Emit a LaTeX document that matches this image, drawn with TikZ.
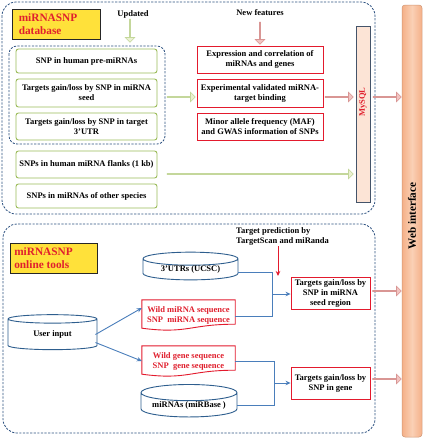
\documentclass[tikz,border=0pt]{standalone}
\usepackage{fontspec}
\setmainfont{Liberation Serif}
\usetikzlibrary{shapes.geometric,shapes.arrows,calc,arrows.meta}
\definecolor{gborder}{HTML}{9BBB59}
\definecolor{rborder}{HTML}{E31A2D}
\definecolor{rtext}{HTML}{E0202E}
\definecolor{dblue}{HTML}{2F5382}
\definecolor{cblue}{HTML}{2E5E8E}
\definecolor{lblue}{HTML}{4A7EBB}
\definecolor{gfill}{HTML}{EBF1D2}
\definecolor{gdraw}{HTML}{C4D79B}
\definecolor{pfill}{HTML}{F2C4C2}
\definecolor{pdraw}{HTML}{D99694}
\definecolor{ttlfill}{HTML}{FFE13A}
\definecolor{sqlfill}{HTML}{FCE4D6}
\definecolor{sqldraw}{HTML}{44546A}
\definecolor{webA}{HTML}{F5B088}
\definecolor{webB}{HTML}{FAD0B5}
% #1 style, #2 border rotation, #3 start, #4 end
\newcommand\fatarr[4]{%
  \path let \p1=#3, \p2=#4, \n1={veclen(\x2-\x1,\y2-\y1)} in
    node[#1, minimum height=\n1, shape border rotate=#2] at ($#3!0.5!#4$) {};}
\begin{document}
\begin{tikzpicture}[x=1pt,y=-1pt,
  every node/.style={font=\bfseries\fontsize{8.5}{10}\selectfont},
  dashbox/.style={draw=dblue, dashed, dash pattern=on 2.2pt off 1.4pt, line width=0.8pt, rounded corners=14pt},
  innerdash/.style={draw=dblue, dashed, dash pattern=on 2.2pt off 1.4pt, line width=0.8pt, rounded corners=8pt},
  ttl/.style={draw=black!85, line width=0.8pt, fill=ttlfill, text=rtext, align=left, anchor=center,
    font=\bfseries\fontsize{11.3}{13.5}\selectfont, inner sep=0pt},
  gbox/.style={draw=gborder, line width=0.9pt, rounded corners=2.5pt, fill=white, align=center,
    minimum width=141pt, inner sep=0pt},
  rbox/.style={draw=rborder, line width=0.9pt, fill=white, align=center, inner sep=0pt},
  cyl/.style={cylinder, shape border rotate=90, draw=cblue, line width=0.9pt, aspect=0.22,
    fill=white, inner sep=0pt},
  docnode/.style={align=center, text=rtext, inner sep=0pt, minimum width=93pt, minimum height=30pt},
  docline/.style={draw=rborder, line width=0.9pt},
  conn/.style={draw=lblue, line width=0.9pt},
  connarr/.style={draw=lblue, line width=0.9pt, -{Stealth[length=5pt,width=4.5pt]}},
  gfat/.style={single arrow, draw=gdraw, fill=gfill, line width=0.6pt, minimum width=9.5pt,
    single arrow head extend=2.5pt, single arrow head indent=0pt, inner sep=0pt},
  pfat/.style={single arrow, draw=pdraw, fill=pfill, line width=0.6pt, minimum width=9.5pt,
    single arrow head extend=2.5pt, single arrow head indent=0pt, inner sep=0pt},
  ]
\useasboundingbox (0,0) rectangle (425,440);
\fill[white] (0,0) rectangle (425,440);

% ---------- database part ----------
\draw[dashbox] (2,2) rectangle (375,214);
\node[ttl, minimum width=88pt, minimum height=30pt] (t1) at (56,24) {\hspace*{2pt}miRNASNP\hspace*{18pt}\\[-1pt]\hspace*{2pt}database\hspace*{24pt}};
\node (upd) at (133,14) {Updated};
\node (newf) at (260,13) {New features};

\draw[innerdash] (9,46) rectangle (165,144);

\node[gbox, minimum height=24pt] (g1) at (86.5,61) {SNP in human pre-miRNAs};
\node[gbox, minimum height=28pt] (g2) at (86.5,93) {Targets gain/loss by SNP in miRNA\\seed};
\node[gbox, minimum height=27pt] (g3) at (86.5,126.5) {Targets gain/loss by SNP in target\\3’UTR};
\node[gbox, minimum height=27pt] (g4) at (86.5,164.5) {SNPs in human miRNA flanks (1 kb)};
\node[gbox, minimum height=24pt] (g5) at (86.5,196) {SNPs in miRNAs of other species};

\node[rbox, minimum width=126pt, minimum height=27pt] (r1) at (260,59.5) {Expression and correlation of\\miRNAs and genes};
\node[rbox, minimum width=126pt, minimum height=28pt] (r2) at (260,93) {Experimental validated miRNA-\\target binding};
\node[rbox, minimum width=126pt, minimum height=27pt] (r3) at (260,126.5) {Minor allele frequency (MAF)\\and GWAS information of SNPs};

\node[draw=sqldraw, line width=0.9pt, fill=sqlfill, minimum width=14pt, minimum height=176pt, inner sep=0pt] (sql) at (363,114) {};
\node[rotate=90, text=rtext, inner sep=0pt] (sqltxt) at (363,102) {MySQL};

% web interface bar
\node[rounded corners=3pt, draw=webA!85!black, line width=0.5pt, left color=webA, right color=webA, middle color=webB,
  minimum width=20pt, minimum height=432pt, inner sep=0pt] (web) at (412,221) {};
\node[rotate=90, font=\bfseries\fontsize{11.2}{13}\selectfont] (webtxt) at (412,216) {Web interface};

% fat arrows (database)
\coordinate (updA) at (130,19);
\coordinate (updB) at (130,42);
\fatarr{gfat}{270}{(updA)}{(updB)}
\coordinate (newA) at (260,22);
\coordinate (newB) at (260,44);
\fatarr{pfat}{270}{(newA)}{(newB)}
\coordinate (ga1) at (167,97);
\coordinate (ga2) at (195,97);
\fatarr{gfat}{0}{(ga1)}{(ga2)}
\coordinate (gl1) at (167,174);
\coordinate (gl2) at (353,174);
\fatarr{gfat}{0}{(gl1)}{(gl2)}
\coordinate (pa1) at (325,97);
\coordinate (pa2) at (353,97);
\fatarr{pfat}{0}{(pa1)}{(pa2)}
\coordinate (pb1) at (373,97);
\coordinate (pb2) at (401,97);
\fatarr{pfat}{0}{(pb1)}{(pb2)}

% ---------- online tools part ----------
\draw[dashbox] (3,224) rectangle (375,433);
\node[ttl, minimum width=87pt, minimum height=30pt] (t2) at (53.5,258) {\hspace*{2pt}miRNASNP\hspace*{22pt}\\[-1pt]\hspace*{2pt}online tools\hspace*{9pt}};

\node[cyl, minimum width=95pt, minimum height=27pt] (utr) at (190.5,269.5) {\raisebox{-3pt}{3’UTRs (UCSC)}};
\node[cyl, minimum width=89pt, minimum height=35pt] (user) at (52.5,334.5) {\raisebox{-3pt}{User input}};
\node[cyl, minimum width=96pt, minimum height=30pt] (mirb) at (189,405) {\raisebox{-3pt}{miRNAs (miRBase )}};

% document shapes
\node[docnode] (doc1) at (188.5,315) {\raisebox{2pt}{\begin{tabular}{@{}c@{}}Wild miRNA sequence\\SNP\ \ miRNA sequence\end{tabular}}};
\draw[docline] (doc1.north west) -- (doc1.north east) -- ([yshift=6pt]doc1.south east)
  .. controls ([xshift=-46pt,yshift=6pt]doc1.south east) and ([xshift=46pt,yshift=-4pt]doc1.south west) .. ([yshift=2pt]doc1.south west) -- cycle;
\node[docnode] (doc2) at (188.5,361) {\raisebox{2pt}{\begin{tabular}{@{}c@{}}Wild gene sequence\\SNP\ \ gene sequence\end{tabular}}};
\draw[docline] (doc2.north west) -- (doc2.north east) -- ([yshift=6pt]doc2.south east)
  .. controls ([xshift=-46pt,yshift=6pt]doc2.south east) and ([xshift=46pt,yshift=-4pt]doc2.south west) .. ([yshift=2pt]doc2.south west) -- cycle;

\node[anchor=north west, align=left, inner sep=0pt, font=\bfseries\fontsize{8.5}{10}\selectfont] (tp) at (236,227) {Target prediction by\\TargetScan and miRanda};
\coordinate (tpA) at (278,246);
\coordinate (tpB) at (278,276);
\draw[draw=rborder, line width=0.9pt, -{Stealth[length=5pt,width=4.5pt]}] (tpA) -- (tpB);

\node[rbox, minimum width=79pt, minimum height=32pt] (T1) at (330.5,293) {Targets gain/loss by\\SNP in miRNA\\seed region};
\node[rbox, minimum width=79pt, minimum height=32pt] (T2) at (330.5,383) {Targets gain/loss by\\SNP in gene};

% connectors
\coordinate (j1) at (272,294);
\draw[conn] (utr.east |- 0,272) -- (272,272) -- (272,316) -- (doc1.east |- 0,316);
\draw[connarr] (j1) -- (T1.west |- j1);
\coordinate (j2) at (274,383);
\draw[conn] (doc2.east |- 0,361) -- (274,361) -- (274,405) -- (mirb.east |- 0,405);
\draw[connarr] (j2) -- (T2.west |- j2);

\draw[connarr] ([xshift=-2pt]user.east) -- ([yshift=7pt]doc1.west);
\draw[connarr] ([xshift=-2pt,yshift=-8pt]user.east) -- (doc2.west);

\coordinate (w1) at (T1.east |- 0,291);
\coordinate (w1b) at (401,291);
\fatarr{pfat}{0}{([xshift=2pt]w1)}{(w1b)}
\coordinate (w2) at (T2.east |- 0,379);
\coordinate (w2b) at (401,379);
\fatarr{pfat}{0}{([xshift=2pt]w2)}{(w2b)}
\end{tikzpicture}
\end{document}
